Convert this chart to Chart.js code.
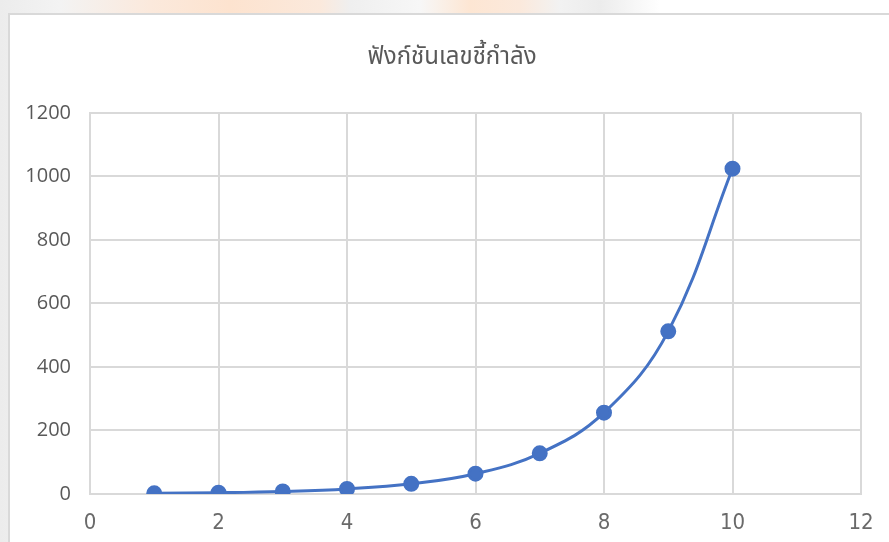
<!DOCTYPE html>
<html lang="th">
<head>
  <meta charset="UTF-8">
  <title>ฟังก์ชันเลขชี้กำลัง</title>
  <script src="https://cdn.jsdelivr.net/npm/chart.js"></script>
  <style>
    html, body {
      margin: 0;
      width: 889px;
      height: 542px;
      overflow: hidden;
    }
    body {
      position: relative;
      /* faded logo behind the chart panel */
      background:
        linear-gradient(90deg,
          #ececec 0px, #f3f3f3 60px, #fbe9dc 150px, #fde3cf 230px, #fbe9dc 320px,
          #efefef 350px, #f7f7f7 420px, #fde6d3 470px, #fbe9dc 520px,
          #f2f2f2 560px, #ececec 600px, #ffffff 660px);
    }
    .panel {
      position: absolute;
      left: 8px;
      top: 13px;
      width: 881px;
      height: 529px;
      background: #ffffff;
      border-top: 2px solid #d9d9d9;
      border-left: 2px solid #d9d9d9;
      box-sizing: border-box;
    }
    .panel canvas {
      position: absolute;
      left: 0;
      top: 0;
    }
  </style>
</head>
<body>
  <div class="panel">
    <canvas id="powerChart" width="884" height="527"></canvas>
  </div>

  <script>
    const xValues = [1, 2, 3, 4, 5, 6, 7, 8, 9, 10];
    const yValues = [2, 4, 8, 16, 32, 64, 128, 256, 512, 1024];
    const xTicks = [0, 2, 4, 6, 8, 10, 12];
    const yTicks = [0, 200, 400, 600, 800, 1000, 1200];

    const points = xValues.map((x, i) => ({ x: x, y: yValues[i] }));
    const gridColor = '#d9d9d9';
    const textColor = '#595959';

    new Chart(document.getElementById('powerChart'), {
      type: 'scatter',
      data: {
        datasets: [{
          label: 'y = 2^x',
          data: points,
          showLine: true,
          borderColor: '#4472c4',
          backgroundColor: '#4472c4',
          borderWidth: 3,
          pointRadius: 6.5,
          pointHoverRadius: 6.5,
          tension: 0.4
        }]
      },
      options: {
        responsive: false,
        animation: false,
        layout: { padding: 0 },
        plugins: {
          legend: { display: false },
          tooltip: { enabled: false },
          title: {
            display: true,
            text: 'ฟังก์ชันเลขชี้กำลัง',
            color: textColor,
            font: { family: "'Noto Sans Thai', 'Noto Sans', sans-serif", size: 24, weight: 'normal' },
            padding: { top: 30, bottom: 39 }
          }
        },
        scales: {
          x: {
            type: 'linear',
            min: xTicks[0],
            max: xTicks[xTicks.length - 1],
            afterBuildTicks: s => { s.ticks = xTicks.map(v => ({ value: v })); },
            afterFit: s => { s.height = 48; },
            grid: { color: gridColor, lineWidth: 2, drawTicks: false },
            border: { color: gridColor, width: 2 },
            ticks: {
              color: '#6a6a6a',
              padding: 16,
              font: { family: "'Liberation Sans Narrow', 'DejaVu Sans Condensed', sans-serif", size: 22 }
            }
          },
          y: {
            min: yTicks[0],
            max: yTicks[yTicks.length - 1],
            afterBuildTicks: s => { s.ticks = yTicks.map(v => ({ value: v })); },
            afterFit: s => { s.width = 80; },
            grid: { color: gridColor, lineWidth: 2, drawTicks: false },
            border: { color: gridColor, width: 2 },
            ticks: {
              color: textColor,
              padding: 19,
              callback: v => String(v),
              font: { family: "'Open Sans', sans-serif", size: 20 }
            }
          },
          // empty strip on the right so the plot ends short of the panel edge
          spacer: {
            type: 'linear',
            position: 'right',
            min: 0,
            max: 1,
            afterFit: s => { s.width = 33; },
            grid: { display: false },
            border: { display: false },
            ticks: { display: false }
          }
        }
      }
    });
  </script>
</body>
</html>
